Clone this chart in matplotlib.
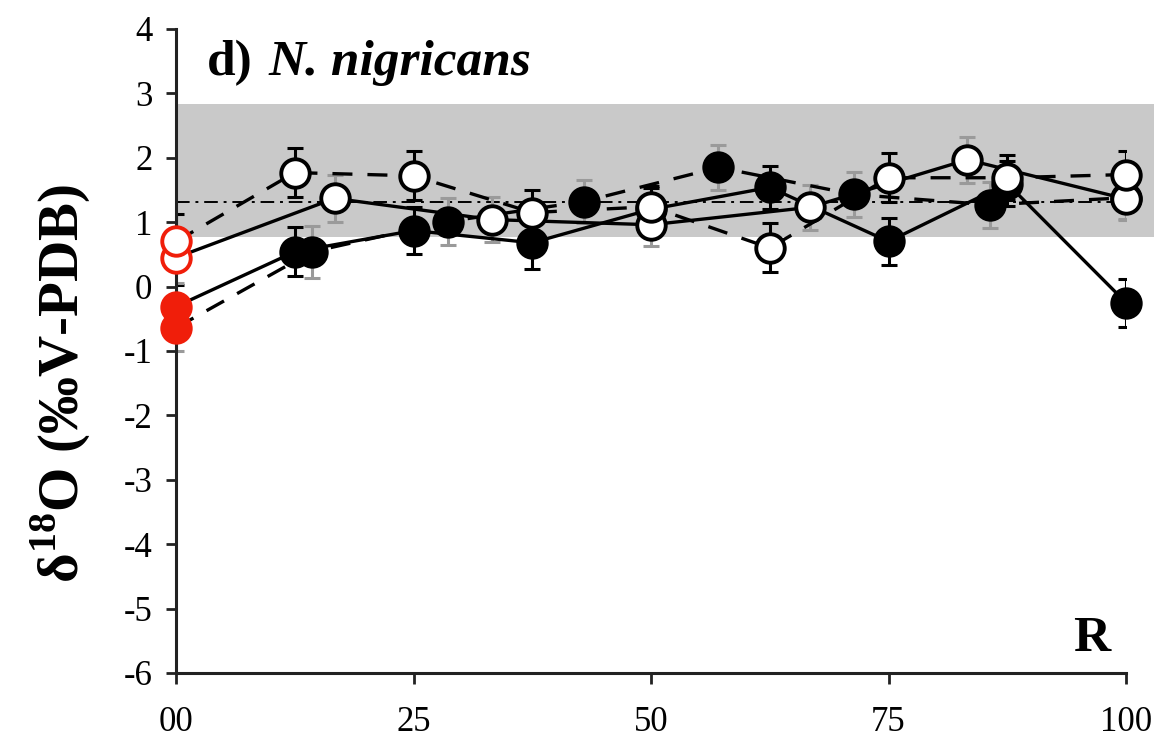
import matplotlib
matplotlib.use("Agg")
import matplotlib.pyplot as plt
from matplotlib.patches import Rectangle

# open circles, dashed line (12.5 % steps), black error bars
x_open_dash = [0, 12.5, 25, 37.5, 50, 62.5, 75, 87.5, 100]
y_open_dash = [0.70, 1.77, 1.72, 1.15, 1.24, 0.60, 1.69, 1.69, 1.74]
e_open_dash = [0.42, 0.38, 0.38, 0.35, 0.32, 0.38, 0.38, 0.35, 0.36]

# open circles, solid line (1/6 steps), grey error bars
x_open_solid = [0, 16.7, 33.3, 50, 66.7, 83.3, 100]
y_open_solid = [0.45, 1.37, 1.04, 0.96, 1.23, 1.97, 1.36]
e_open_solid = [0.40, 0.37, 0.35, 0.33, 0.35, 0.36, 0.33]

# filled circles, solid line (12.5 % steps), black error bars
x_fill_solid = [0, 12.5, 25, 37.5, 50, 62.5, 75, 87.5, 100]
y_fill_solid = [-0.31, 0.54, 0.87, 0.68, 1.20, 1.54, 0.70, 1.60, -0.25]
e_fill_solid = [0.34, 0.38, 0.37, 0.40, 0.33, 0.33, 0.37, 0.35, 0.37]

# filled circles, dashed line (1/7 steps), grey error bars
x_fill_dash = [0, 14.3, 28.6, 42.9, 57.1, 71.4, 85.7, 100]
y_fill_dash = [-0.64, 0.54, 1.01, 1.32, 1.85, 1.43, 1.27, 1.38]
e_fill_dash = [0.36, 0.40, 0.36, 0.33, 0.35, 0.35, 0.36, 0.33]

band_low, band_high = 0.77, 2.83
ref_level = 1.32

y_ticks = [4, 3, 2, 1, 0, -1, -2, -3, -4, -5, -6]
x_ticks = [0, 25, 50, 75, 100]
x_labels = ["00", "25", "50", "75", "100"]

SERIF = "Liberation Serif"
plt.rcParams["font.family"] = [SERIF, "DejaVu Serif"]
plt.rcParams["mathtext.fontset"] = "custom"
plt.rcParams["mathtext.rm"] = "Liberation Serif:bold"
plt.rcParams["mathtext.bf"] = "Liberation Serif:bold"

fig = plt.figure(figsize=(11.64, 7.47), dpi=100)
ax = fig.add_axes([0.1512, 0.0991, 0.8162, 0.8621])
ax.set_xlim(0, 100)
ax.set_ylim(-6, 4)

# grey reference band (runs a bit past the x axis end)
ax.add_patch(Rectangle((0, band_low), 102.9, band_high - band_low,
                       facecolor="#c9c9c9", edgecolor="none", zorder=0, clip_on=False))
ax.plot([0, 100], [ref_level, ref_level], color="black", lw=1.4,
        dashes=(7, 3, 1.5, 3), zorder=1)

series = [
    (x_fill_solid, y_fill_solid, e_fill_solid, "-", "black", "black"),
    (x_fill_dash, y_fill_dash, e_fill_dash, "--", "#9a9a9a", "black"),
    (x_open_solid, y_open_solid, e_open_solid, "-", "#9a9a9a", "white"),
    (x_open_dash, y_open_dash, e_open_dash, "--", "black", "white"),
]

for i, (xs, ys, es, ls, ecol, face) in enumerate(series):
    ax.errorbar(xs, ys, yerr=es, fmt="none", ecolor=ecol, elinewidth=2.2,
                capsize=5.5, capthick=2.2, zorder=2 + i * 0.1)
    line, = ax.plot(xs, ys, color="black", lw=2.4, zorder=3, clip_on=False)
    if ls == "--":
        line.set_dashes((6, 4.5))
    ax.plot(xs[1:], ys[1:], "o", mfc=face, mec="black", ms=20.5, mew=2.8,
            zorder=4 + i * 0.1, clip_on=False)
    red_face = "#f01e0a" if face == "black" else "white"
    ax.plot(xs[0], ys[0], "o", mfc=red_face, mec="#f01e0a", ms=20.5, mew=2.8,
            zorder=4 + i * 0.1, clip_on=False)

for side in ["top", "right"]:
    ax.spines[side].set_visible(False)
for side in ["left", "bottom"]:
    ax.spines[side].set_linewidth(2.2)
    ax.spines[side].set_color("#222222")

ax.set_yticks(y_ticks)
ax.set_yticklabels([str(v) for v in y_ticks])
ax.set_xticks(x_ticks)
ax.set_xticklabels(x_labels)
ax.tick_params(axis="y", direction="out", length=7, width=2, colors="#222222",
               labelsize=25, labelcolor="black", pad=10)
ax.tick_params(axis="x", direction="out", length=8, width=2, colors="#222222",
               labelsize=25, labelcolor="black", pad=16)

fig.text(0.052, 0.487, r"δ$^{18}$O (‰V-PDB)", rotation=90, fontsize=41,
         fontweight="bold", ha="center", va="center")

fig.text(0.178, 0.915, "d)", fontsize=37, fontweight="bold", va="center")
fig.text(0.231, 0.915, "N. nigricans", fontsize=37, fontweight="bold",
         fontstyle="italic", va="center")
ax.text(96.4, -5.48, "R", fontsize=37, fontweight="bold", ha="center", va="center")

fig.savefig("out.png", dpi=100)
